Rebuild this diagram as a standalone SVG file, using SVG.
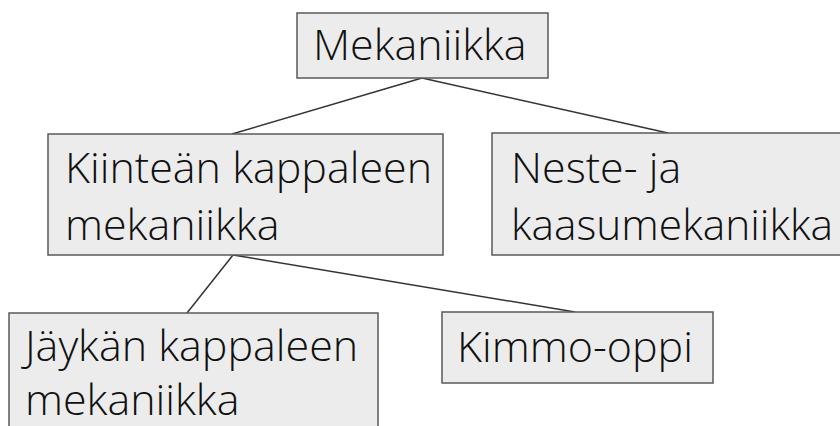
<svg xmlns="http://www.w3.org/2000/svg" width="840" height="426" viewBox="0 0 840 426">
<style>
.box{fill:#ececec;stroke:#5a5a5a;stroke-width:1.5}
.t{font-family:"Open Sans","Liberation Sans",sans-serif;font-weight:300;font-size:43px;fill:#111}
.c{stroke:#333;stroke-width:1.5;fill:none}
</style>
<rect width="840" height="426" fill="#ffffff"/>
<g id="connectors">
<line class="c" x1="422" y1="78" x2="232" y2="134"/>
<line class="c" x1="422" y1="78" x2="668" y2="133"/>
<line class="c" x1="233" y1="255" x2="187" y2="313"/>
<line class="c" x1="233" y1="255" x2="575" y2="312"/>
</g>
<g id="n-mekaniikka">
<rect class="box" x="297" y="13" width="251" height="65"/>
<text class="t" x="313" y="60">Mekaniikka</text>
</g>
<g id="n-kiintean">
<rect class="box" x="48" y="134" width="395" height="121"/>
<text class="t" x="65" y="183">Kiinteän kappaleen</text>
<text class="t" x="65" y="240">mekaniikka</text>
</g>
<g id="n-neste">
<rect class="box" x="492" y="133" width="360" height="122"/>
<text class="t" x="511" y="183">Neste- ja</text>
<text class="t" x="511" y="240" textLength="322" lengthAdjust="spacingAndGlyphs">kaasumekaniikka</text>
</g>
<g id="n-jaykan">
<rect class="box" x="9" y="313" width="369" height="130"/>
<text class="t" x="25" y="361">Jäykän kappaleen</text>
<text class="t" x="25" y="415">mekaniikka</text>
</g>
<g id="n-kimmo">
<rect class="box" x="442" y="312" width="271" height="71"/>
<text class="t" x="457" y="362">Kimmo-oppi</text>
</g>
</svg>
